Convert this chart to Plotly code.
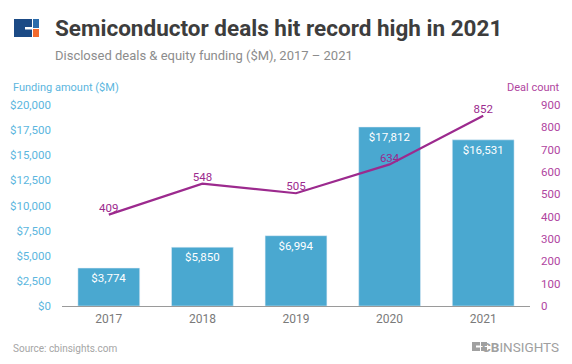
import plotly.graph_objects as go

years = ["2017", "2018", "2019", "2020", "2021"]
funding = [3774, 5850, 6994, 17812, 16531]
deals = [409, 548, 505, 634, 852]
funding_ticks = [0, 2500, 5000, 7500, 10000, 12500, 15000, 17500, 20000]
deal_ticks = [0, 100, 200, 300, 400, 500, 600, 700, 800, 900]

BLUE = "#4aa8d0"
TICKBLUE = "#5bb6de"
PURPLE = "#9c2a8e"
TICKPURPLE = "#b0459f"
FONT = "Roboto"

W, H = 572, 364
L, R, T, B = 62, 42, 105, 58
pw, ph = W - L - R, H - T - B
def px(x): return (x - L) / pw
def py(y): return (H - B - y) / ph

fig = go.Figure()
fig.add_trace(go.Bar(
    x=years, y=funding, marker_color=BLUE,
    text=[f"${v:,}" for v in funding], textposition="inside",
    insidetextanchor="end", textangle=0,
    textfont=dict(color="white", size=11.5, family=FONT),
    cliponaxis=False, yaxis="y",
))
fig.add_trace(go.Scatter(
    x=years, y=deals, mode="lines+text", yaxis="y2",
    line=dict(color=PURPLE, width=2.2),
    text=[str(v) for v in deals], textposition="top center",
    textfont=dict(color=PURPLE, size=11.5, family=FONT),
    cliponaxis=False,
))

fig.update_layout(
    width=W, height=H,
    margin=dict(l=L, r=R, t=T, b=B, autoexpand=False),
    paper_bgcolor="white", plot_bgcolor="white",
    showlegend=False, bargap=0.34, hovermode=False,
    font=dict(family=FONT, color="#777"),
    xaxis=dict(showline=True, linecolor="#9a9a9a", linewidth=1, ticks="",
               tickfont=dict(size=12, color="#7a7a7a"), showgrid=False,
               ticklabelstandoff=2, automargin=False),
    yaxis=dict(range=[0, 20000], tickvals=funding_ticks,
               ticktext=[f"${v:,}" for v in funding_ticks],
               tickfont=dict(size=11.5, color=TICKBLUE), showgrid=False,
               zeroline=False, ticklabelstandoff=10, automargin=False),
    yaxis2=dict(range=[0, 900], tickvals=deal_ticks, overlaying="y", side="right",
                tickfont=dict(size=11.5, color=TICKPURPLE), showgrid=False,
                zeroline=False, ticklabelstandoff=10, automargin=False),
)

def note(text, x, y, size, color, anchor="left"):
    fig.add_annotation(text=text, xref="paper", yref="paper", x=px(x), y=py(y),
                       xanchor=anchor, yanchor="middle", showarrow=False,
                       font=dict(size=size, color=color, family=FONT))

note("<b>Semiconductor deals hit record high in 2021</b>", 53, 28.5, 22.5, "#3d3d3d")
note("Disclosed deals & equity funding ($M), 2017 – 2021", 53, 55, 13, "#8c8c8c")
note("Funding amount ($M)", 11, 87, 11, TICKBLUE)
note("Deal count", 562, 87, 11, TICKPURPLE, "right")
note("Source: cbinsights.com", 11, 348, 10, "#a5a5a5")
note("<b>CB</b>INSIGHTS", 561, 346.5, 13.5, "#a0a0a0", "right")

def box(x0, x1, y0, y1, color):
    fig.add_shape(type="rect", xref="paper", yref="paper", x0=px(x0), x1=px(x1),
                  y0=py(y1), y1=py(y0), fillcolor=color, line_width=0, layer="above")

# top-left logo
box(14, 32, 19, 37, "#1b4a85")
box(25, 32, 27, 29.5, "white")
box(33, 39, 19, 28, "#2b6cab")
box(33, 39, 29, 37, "#f26a2e")
# footer logo icon
box(472, 480, 342, 351, "#a0a0a0")
box(476, 480, 345.5, 347.5, "white")
box(481, 487, 342, 346, "#a0a0a0")
box(481, 487, 347, 351, "#a0a0a0")

fig.write_html("out.html", config={"displayModeBar": False},
               post_script="document.body.style.margin='0';document.body.style.overflow='hidden';")
